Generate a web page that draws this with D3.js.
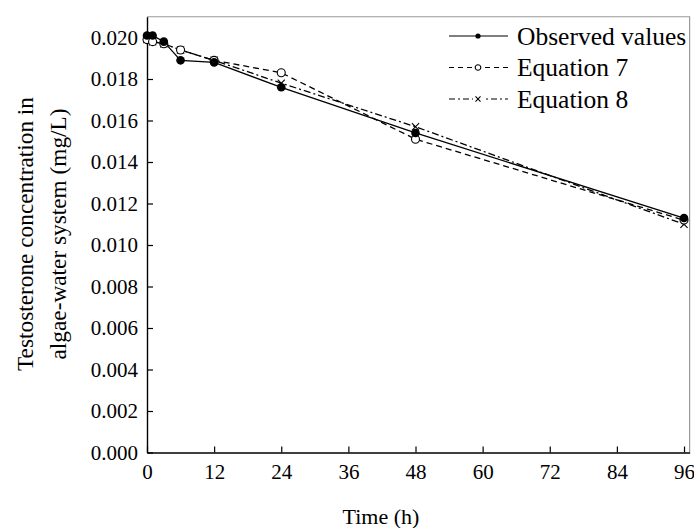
<!DOCTYPE html>
<html>
<head>
<meta charset="utf-8">
<script src="https://cdn.jsdelivr.net/npm/d3@7"></script>
<style>
  body { margin: 0; background: #fff; }
  text { font-family: 'Liberation Serif', 'Times New Roman', serif; fill: #000; }
</style>
</head>
<body>
<div id="graph"></div>
<script>
var hours = [0, 1, 3, 6, 12, 24, 48, 96]
var observed = [0.0201, 0.0201, 0.0198, 0.0189, 0.0188, 0.0176, 0.0154, 0.0113]
var eq7 = [0.0199, 0.0198, 0.0197, 0.0194, 0.0189, 0.0183, 0.0151, 0.0112]
var eq8 = [0.0199, 0.0198, 0.0197, 0.0194, 0.0189, 0.0178, 0.0157, 0.0110]
var xTicks = [0, 12, 24, 36, 48, 60, 72, 84, 96]
var yTicks = [0, 0.002, 0.004, 0.006, 0.008, 0.010, 0.012, 0.014, 0.016, 0.018, 0.020]
var seriesNames = ['Observed values', 'Equation 7', 'Equation 8']

var width = 694, height = 528
var svg = d3.select('#graph').append('svg')
  .attr('width', width).attr('height', height)

var x = d3.scaleLinear().domain([0, 97]).range([147, 689.6])
var y = d3.scaleLinear().domain([0, 0.021]).range([452.5, 16.75])

// frame: grey top/right, black axes
svg.append('path')
  .attr('d', `M${x(0)},${y(0.021)}H${x(97)}V${y(0)}`)
  .attr('fill', 'none').attr('stroke', '#999').attr('stroke-width', 1.2)

var xAxis = svg.append('g').attr('transform', `translate(0,${y(0)})`)
  .call(d3.axisBottom(x).tickValues(xTicks).tickSizeInner(-6).tickSizeOuter(0).tickPadding(12))
var yAxis = svg.append('g').attr('transform', `translate(${x(0)},0)`)
  .call(d3.axisLeft(y).tickValues(yTicks).tickSizeInner(-6).tickSizeOuter(0).tickPadding(9).tickFormat(d3.format('.3f')))

;[xAxis, yAxis].forEach(a => {
  a.attr('font-family', null)
  a.select('.domain').attr('stroke', '#000').attr('stroke-width', 1.4)
  a.selectAll('.tick line').attr('stroke', '#000').attr('stroke-width', 1.2)
  a.selectAll('text').attr('font-size', 21)
})

var series = [
  {name: seriesNames[0], values: observed, dash: null, mark: 'dot'},
  {name: seriesNames[1], values: eq7, dash: '6,4', mark: 'circle'},
  {name: seriesNames[2], values: eq8, dash: '7,3,2,3', mark: 'cross'},
]

var line = d3.line().x((d, i) => x(hours[i])).y(d => y(d))

function marker(g, type, r) {
  if (type == 'dot') {
    g.append('circle').attr('r', r).attr('fill', '#000')
  } else if (type == 'circle') {
    g.append('circle').attr('r', r).attr('fill', '#fff').attr('stroke', '#000').attr('stroke-width', 1.1)
  } else {
    var s = r * 0.9
    g.append('path').attr('d', `M${-s},${-s}L${s},${s}M${-s},${s}L${s},${-s}`)
      .attr('stroke', '#000').attr('stroke-width', 1.1)
  }
}

series.slice().reverse().forEach(s => {
  svg.append('path')
    .attr('d', line(s.values))
    .attr('fill', 'none').attr('stroke', '#000').attr('stroke-width', 1.3)
    .attr('stroke-dasharray', s.dash)
})

series.slice().reverse().forEach(s => {
  s.values.forEach((v, i) => {
    var g = svg.append('g').attr('transform', `translate(${x(hours[i])},${y(v)})`)
    marker(g, s.mark, s.mark == 'dot' ? 4.3 : 4)
  })
})

// legend
var legend = svg.append('g')
series.forEach((s, i) => {
  var ly = 36 + i * 31.5
  legend.append('line')
    .attr('x1', 449).attr('x2', 508).attr('y1', ly).attr('y2', ly)
    .attr('stroke', '#000').attr('stroke-width', 1.2)
    .attr('stroke-dasharray', s.dash ? (s.mark == 'circle' ? '5,4' : '6,3,2,3') : null)
  var g = legend.append('g').attr('transform', `translate(478,${ly})`)
  if (s.dash) g.append('rect').attr('x', -5).attr('y', -4).attr('width', 10).attr('height', 8).attr('fill', '#fff')
  marker(g, s.mark, s.mark == 'dot' ? 2.6 : 2.8)
  legend.append('text')
    .attr('x', 517).attr('y', ly + 8.5)
    .attr('font-size', 25.5)
    .text(s.name)
})

// axis titles
svg.append('text')
  .attr('x', 381).attr('y', 524)
  .attr('text-anchor', 'middle').attr('font-size', 22)
  .text('Time (h)')

var yt = svg.append('text')
  .attr('transform', 'translate(0,234) rotate(-90)')
  .attr('text-anchor', 'middle').attr('font-size', 23.3)
yt.append('tspan').attr('x', 0).attr('y', 33).text('Testosterone concentration in')
yt.append('tspan').attr('x', 0).attr('y', 66).text('algae-water system (mg/L)')
</script>
</body>
</html>
